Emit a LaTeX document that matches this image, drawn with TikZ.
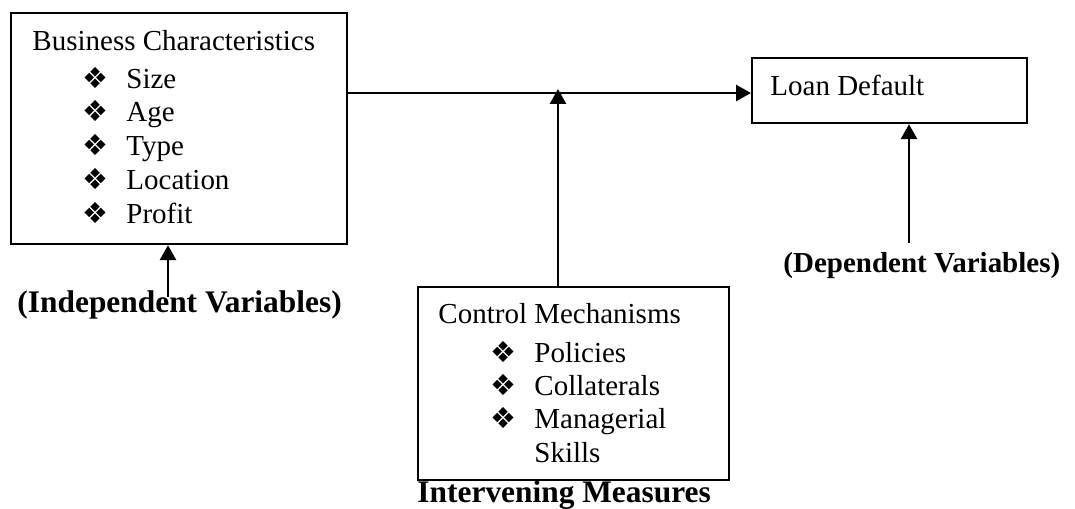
\documentclass[tikz,border=0pt]{standalone}
\usepackage{fontspec}
\setmainfont{Liberation Serif}
\newfontfamily\dingfont{DejaVu Sans}
\usepackage{tikz}
\usetikzlibrary{calc,arrows.meta,positioning}
\def\pxl{0.414pt}
\tikzset{
  box/.style={draw,line width=0.9pt,inner sep=0pt,anchor=north west},
  conn/.style={-{Triangle[length=6.2pt,width=6.6pt]},line width=1.2pt},
  txt/.style={font=\fontsize{12}{14}\selectfont,anchor=base west,inner sep=0pt},
  heading/.style={font=\bfseries\fontsize{13}{15}\selectfont,anchor=base west,inner sep=0pt}
}
\newcommand\bul{{\dingfont\fontsize{12}{12}\selectfont ❖}}
\newcommand\bitem[1]{\makebox[18.2pt][l]{\bul}\parbox[t]{60pt}{\raggedright #1}}

\begin{document}
\begin{tikzpicture}[x=\pxl,y=-\pxl]
  \useasboundingbox (0,0) rectangle (1075,509);

  % boxes
  \node[box,minimum width=336*\pxl,minimum height=231*\pxl] (bc) at (10,12) {};
  \node[box,minimum width=275*\pxl,minimum height=65*\pxl]  (ld) at (751,57) {};
  \node[box,minimum width=311*\pxl,minimum height=193*\pxl] (cm) at (417,286) {};

  \node[txt] (bctitle) at ($(bc.north west)+(22,38)$) {Business Characteristics};
  \foreach \t [count=\i] in {Size,Age,Type,Location,Profit}
    \node[txt] (bc\i) at ($(bc.north west)+(72,{76+(\i-1)*33.8})$) {\bitem{\t}};

  \node[txt] (ldtitle) at ($(ld.north west)+(19,38)$) {Loan Default};

  \node[txt] (cmtitle) at ($(cm.north west)+(21,37)$) {Control Mechanisms};
  \foreach \t [count=\i] in {Policies,Collaterals,{Managerial\\Skills}}
    \node[txt] (cm\i) at ($(cm.north west)+(73,{76+(\i-1)*33.3})$) {\bitem{\t}};

  % variable labels
  \node[heading] (iv) at (17,312) {(Independent Variables)};
  \node[heading,font=\bfseries\fontsize{12}{14}\selectfont] (dv) at (783,272) {(Dependent Variables)};
  \node[heading] (im) at (417,502) {Intervening Measures};

  % connectors
  \coordinate (j) at (558,93);
  \draw[conn] (bc.east |- j) -- (ld.west |- j);
  \draw[conn] (cm.north -| j) -- ([yshift=4*\pxl]j);
  \coordinate (ivtop) at (168,297);
  \draw[conn] (ivtop) -- (ivtop |- bc.south);
  \coordinate (dvtop) at (909,243);
  \draw[conn] (dvtop) -- (dvtop |- ld.south);
\end{tikzpicture}
\end{document}
